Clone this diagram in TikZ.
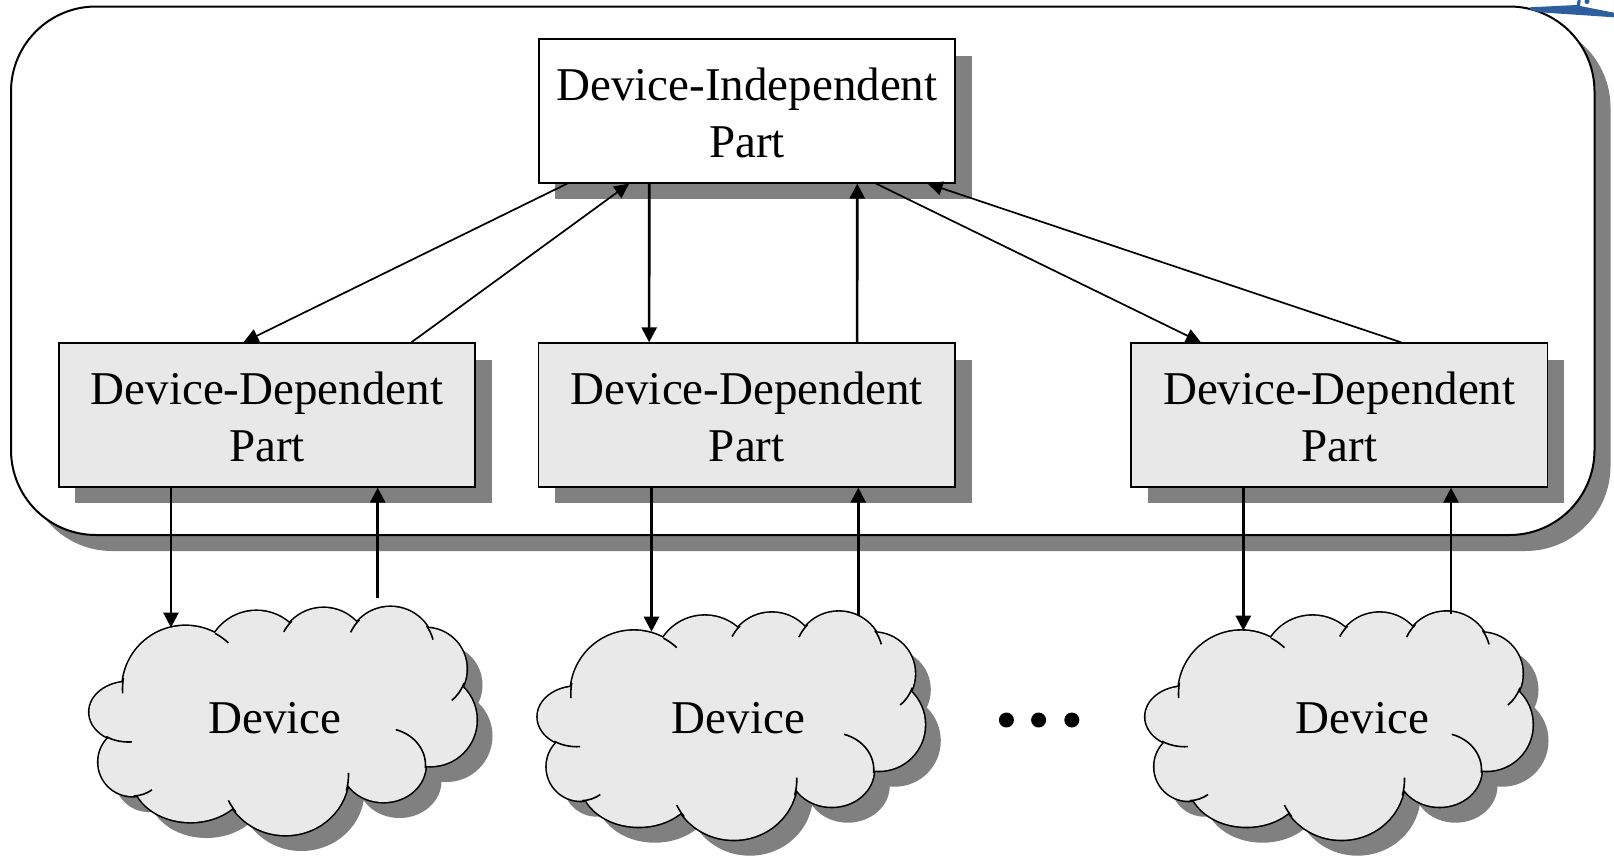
\documentclass[tikz,border=0pt]{standalone}
\usepackage{fontspec}
\setmainfont{Liberation Serif}
\usetikzlibrary{arrows.meta,shadows}

\definecolor{shadowgray}{HTML}{808080}
\definecolor{boxgray}{HTML}{E8E8E8}
\definecolor{cloudgray}{HTML}{E9E9E9}
\definecolor{inkblue}{HTML}{2E5E9E}

\tikzset{
  bigfont/.style={font=\fontsize{47}{57}\selectfont},
  hardshadow/.style={drop shadow={shadow xshift=#1, shadow yshift=-#1, fill=shadowgray, opacity=1}},
  frame/.style={draw=black, line width=2pt, fill=white, rounded corners=85pt,
    minimum width=1583.5pt, minimum height=528.5pt, inner sep=0pt, hardshadow=16pt},
  partbox/.style={draw=black, line width=1.8pt, minimum width=416.5pt, minimum height=143.5pt,
    inner sep=0pt, align=center, bigfont, hardshadow=16.5pt},
  devtext/.style={bigfont, anchor=base, inner sep=0pt},
  dot/.style={circle, fill=black, inner sep=0pt, minimum size=15pt},
  puffline/.style={draw=black, line width=1.6pt},
  varrow/.style={line width=2.6pt, -{Triangle[length=15pt, width=15pt]}},
  darrow/.style={line width=1.7pt, -{Triangle[length=15pt, width=14pt]}},
}

% puffs of one cloud, in local coordinates (origin at the cloud's top-left corner)
\newcommand\puffpath[2]{%
  \path[#1]
    (95,-82) circle[radius=63]
    (166,-54) circle[radius=50]
    (233,-46) circle[radius=45]
    (300,-44) circle[radius=44]
    (335,-62) circle[radius=41]
    (340,-113) circle[radius=46]
    (293,-158) ellipse[x radius=42, y radius=37]
    (195,-168) ellipse[x radius=63, y radius=60]
    (100,-170) ellipse[x radius=58, y radius=45]
    (42,-155) circle[radius=34]
    (38,-105) ellipse[x radius=39, y radius=30]
    #2;}

% cloud with drop shadow: #1 = left, #2 = top
\newcommand\devcloud[2]{%
  \begin{scope}[shift={(#1,-#2)}]
    \puffpath{fill=shadowgray, shift={(16,-16)}}{(200,-110) ellipse[x radius=140, y radius=70]}
    \puffpath{draw=black, line width=3.2pt}{}
    \puffpath{fill=cloudgray}{(200,-110) ellipse[x radius=140, y radius=70]}
    \draw[puffline] (95,-82) ++(170:63) arc[start angle=170, end angle=184, radius=63];
    \draw[puffline] (95,-82) ++(62:63) arc[start angle=62, end angle=47, radius=63];
    \draw[puffline] (233,-46) ++(135:45) arc[start angle=135, end angle=152, radius=45];
    \draw[puffline] (300,-44) ++(135:44) arc[start angle=135, end angle=155, radius=44];
    \draw[puffline] (300,-44) ++(35:44) arc[start angle=35, end angle=15, radius=44];
    \draw[puffline] (335,-62) ++(-20:41) arc[start angle=-20, end angle=-50, radius=41];
    \draw[puffline] (293,-158) ++(-5:42 and 37) arc[start angle=-5, end angle=73, x radius=42, y radius=37];
    \draw[puffline] (195,-168) ++(-15:63 and 60) arc[start angle=-15, end angle=2, x radius=63, y radius=60];
    \draw[puffline] (195,-168) ++(218:63 and 60) arc[start angle=218, end angle=205, x radius=63, y radius=60];
    \draw[puffline] (42,-155) ++(-88:34) arc[start angle=-88, end angle=-55, radius=34];
    \draw[puffline] (38,-105) ++(235:39 and 30) arc[start angle=235, end angle=275, x radius=39, y radius=30];
  \end{scope}}

\begin{document}
\begin{tikzpicture}[x=1pt, y=1pt]
  \fill[white] (0,0) rectangle (1614,-855);
  \useasboundingbox (0,0) rectangle (1614,-855);

  % enclosing rounded frame
  \node[frame] (frame) at (802.75,-270.75) {};

  % parts
  \node[partbox, fill=white] (dip) at (746.9,-110.9) {\rule{0pt}{36pt}Device-Independent\\Part};
  \node[partbox, fill=boxgray] (ddp1) at (267,-415) {\rule{0pt}{36pt}Device-Dependent\\Part};
  \node[partbox, fill=boxgray] (ddp2) at (746.8,-415) {\rule{0pt}{36pt}Device-Dependent\\Part};
  \node[partbox, fill=boxgray] (ddp3) at (1339.3,-415) {\rule{0pt}{36pt}Device-Dependent\\Part};

  % devices
  \devcloud{90.5}{607}
  \devcloud{538.8}{611.7}
  \devcloud{1146.5}{611.7}
  \begin{scope}[shift={(90.5,-607)}]
    \coordinate (c1in) at (80.5,-20.6);
    \coordinate (c1out) at (287.2,9);
  \end{scope}
  \begin{scope}[shift={(538.8,-611.7)}]
    \coordinate (c2in) at (112.7,-20);
    \coordinate (c2out) at (319.5,-4);
  \end{scope}
  \begin{scope}[shift={(1146.5,-611.7)}]
    \coordinate (c3in) at (96.8,-19);
    \coordinate (c3out) at (304.5,-2);
  \end{scope}
  \node[devtext] (dev1) at (275,-733) {Device};
  \node[devtext] (dev2) at (738.4,-733) {Device};
  \node[devtext] (dev3) at (1362.5,-733) {Device};

  % ellipsis between the devices
  \node[dot] (dot1) at (1006.4,-720) {};
  \node[dot] (dot2) at (1038.6,-720) {};
  \node[dot] (dot3) at (1071.8,-720) {};

  % independent <-> dependent parts
  \draw[darrow] ([xshift=29.5pt]dip.south west) -- ([xshift=185.6pt]ddp1.north west);
  \draw[darrow] ([xshift=353.5pt]ddp1.north west) -- ([xshift=91.5pt]dip.south west);
  \draw[varrow] ([xshift=111.5pt]dip.south west) -- ([xshift=111.5pt]ddp2.north west);
  \draw[varrow] ([xshift=319.5pt]ddp2.north west) -- ([xshift=319.5pt]dip.south west);
  \draw[darrow] ([xshift=338.2pt]dip.south west) -- ([xshift=70.8pt]ddp3.north west);
  \draw[darrow] ([xshift=271pt]ddp3.north west) -- ([xshift=389.9pt]dip.south west);

  % dependent parts <-> devices
  \draw[varrow] (ddp1.south -| c1in) -- (c1in);
  \draw[varrow] (c1out) -- (ddp1.south -| c1out);
  \draw[varrow] (ddp2.south -| c2in) -- (c2in);
  \draw[varrow] (c2out) -- (ddp2.south -| c2out);
  \draw[varrow] (ddp3.south -| c3in) -- (c3in);
  \draw[varrow] (c3out) -- (ddp3.south -| c3out);

  % pen mark in the upper right corner
  \fill[inkblue] (1530,-7.3) -- (1576.7,-5) -- (1577.7,0) -- (1580.7,0) -- (1580,-6)
    -- (1614,-12.7) -- (1614,-17.3) -- (1540,-12.3) -- (1530,-10) -- cycle;
  \fill[inkblue] (1587,-1.5) circle[radius=2.5];
\end{tikzpicture}
\end{document}
